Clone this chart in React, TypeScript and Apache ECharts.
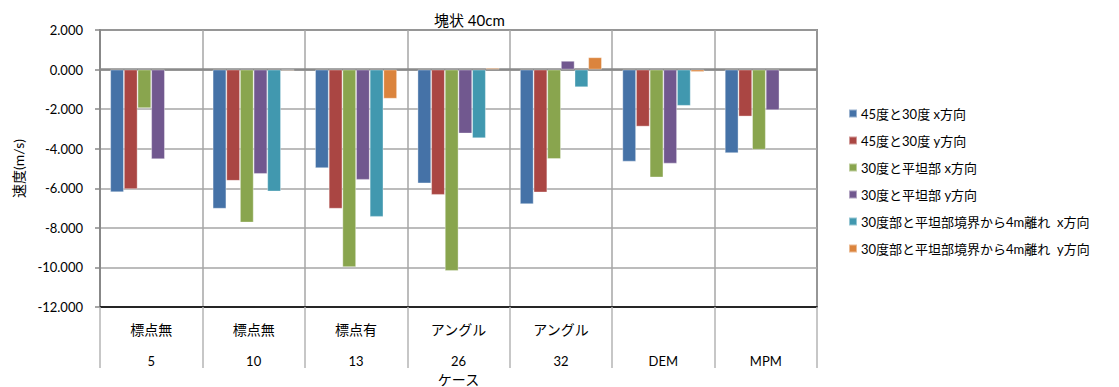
import React, { useEffect, useRef } from "react";
import * as echarts from "echarts";

const caseTypes = ["標点無", "標点無", "標点有", "アングル", "アングル", "", ""];
const caseIds = ["5", "10", "13", "26", "32", "DEM", "MPM"];
const seriesNames = [
  "45度と30度 x方向",
  "45度と30度 y方向",
  "30度と平坦部 x方向",
  "30度と平坦部 y方向",
  "30度部と平坦部境界から4m離れ  x方向",
  "30度部と平坦部境界から4m離れ  y方向",
];
const s45x = [-6.2, -7.03, -4.98, -5.75, -6.8, -4.65, -4.22];
const s45y = [-6.04, -5.62, -7.03, -6.33, -6.21, -2.88, -2.37];
const s30x = [-1.95, -7.73, -9.98, -10.17, -4.52, -5.45, -4.05];
const s30y = [-4.53, -5.27, -5.57, -3.23, 0.44, -4.75, -2.05];
const s4mx = [null, -6.16, -7.44, -3.47, -0.89, -1.83, null];
const s4my = [null, -0.05, -1.47, 0.08, 0.62, -0.12, null];
const seriesData = [s45x, s45y, s30x, s30y, s4mx, s4my];
const colors = ["#4572A7", "#AA4643", "#89A54E", "#71588F", "#4198AF", "#DB843D"];

const FONT = 'Lato, "Noto Sans CJK JP", sans-serif';

export default function App() {
  const ref = useRef<HTMLDivElement>(null);
  useEffect(() => {
    const chart = echarts.init(ref.current!, null, { renderer: "svg" });
    const labels = caseIds.map((id, i) => `{a|${caseTypes[i] || " "}}\n{b|${id}}`);
    chart.setOption({
      animation: false,
      color: colors,
      textStyle: { fontFamily: FONT },
      title: {
        text: "塊状 40cm",
        left: 429,
        top: 7,
        textStyle: { fontSize: 15, fontWeight: "normal", color: "#000", fontFamily: FONT },
      },
      legend: {
        orient: "vertical",
        left: 843,
        top: 102,
        itemWidth: 8,
        itemHeight: 8,
        itemGap: 14,
        icon: "rect",
        textStyle: { fontSize: 13, color: "#000", fontFamily: FONT, padding: [0, 0, 0, -1] },
        data: seriesNames,
      },
      grid: {
        left: 100,
        right: 302,
        top: 30,
        bottom: 80,
        show: true,
        borderColor: "#3a3a3a",
        borderWidth: 1.5,
        containLabel: false,
        outerBoundsMode: "none",
      },
      xAxis: {
        type: "category",
        data: labels,
        name: "ケース",
        nameLocation: "middle",
        nameGap: 63,
        nameTextStyle: { fontSize: 14, color: "#000", fontFamily: FONT },
        axisLine: { onZero: false, lineStyle: { color: "#000", width: 1.5 } },
        axisTick: { show: true, length: 61, interval: 0, lineStyle: { color: "#b4b4b4", width: 1.5 } },
        splitLine: { show: true, interval: 0, lineStyle: { color: "#a6a6a6", width: 1.5 } },
        axisLabel: {
          interval: 0,
          margin: 6,
          color: "#000",
          rich: {
            a: { fontSize: 14, lineHeight: 32, fontFamily: FONT, color: "#000" },
            b: { fontSize: 13, lineHeight: 32, fontFamily: FONT, color: "#000" },
          },
        },
      },
      yAxis: {
        type: "value",
        min: -12,
        max: 2,
        interval: 2,
        name: "速度(m/s)",
        nameLocation: "middle",
        nameGap: 75,
        nameRotate: 90,
        nameTextStyle: { fontSize: 14, color: "#000", fontFamily: FONT },
        axisLine: { show: true, lineStyle: { color: "#888", width: 2 } },
        axisTick: { show: true, length: 5, lineStyle: { color: "#888", width: 1.5 } },
        axisLabel: {
          margin: 17,
          fontSize: 13,
          color: "#000",
          fontFamily: FONT,
          formatter: (v: number) => v.toFixed(3),
        },
        splitLine: { show: true, lineStyle: { color: "#a6a6a6", width: 1.5 } },
      },
      series: seriesNames.map((name, i) => ({
        name,
        type: "bar",
        data: seriesData[i],
        barGap: "0%",
        barCategoryGap: "20%",
        itemStyle: { color: colors[i], borderColor: "rgba(255,255,255,0.45)", borderWidth: 0.8 },
        ...(i === 0
          ? {
              markLine: {
                silent: true,
                symbol: "none",
                label: { show: false },
                lineStyle: { color: "#8a8a8a", width: 2.5, type: "solid" },
                data: [{ yAxis: 0 }],
                z: 1,
              },
            }
          : {}),
      })),
    });
    return () => chart.dispose();
  }, []);
  return (
    <div
      ref={ref}
      style={{ position: "fixed", left: 0, top: 0, width: 1119, height: 387, background: "#fff" }}
    />
  );
}
